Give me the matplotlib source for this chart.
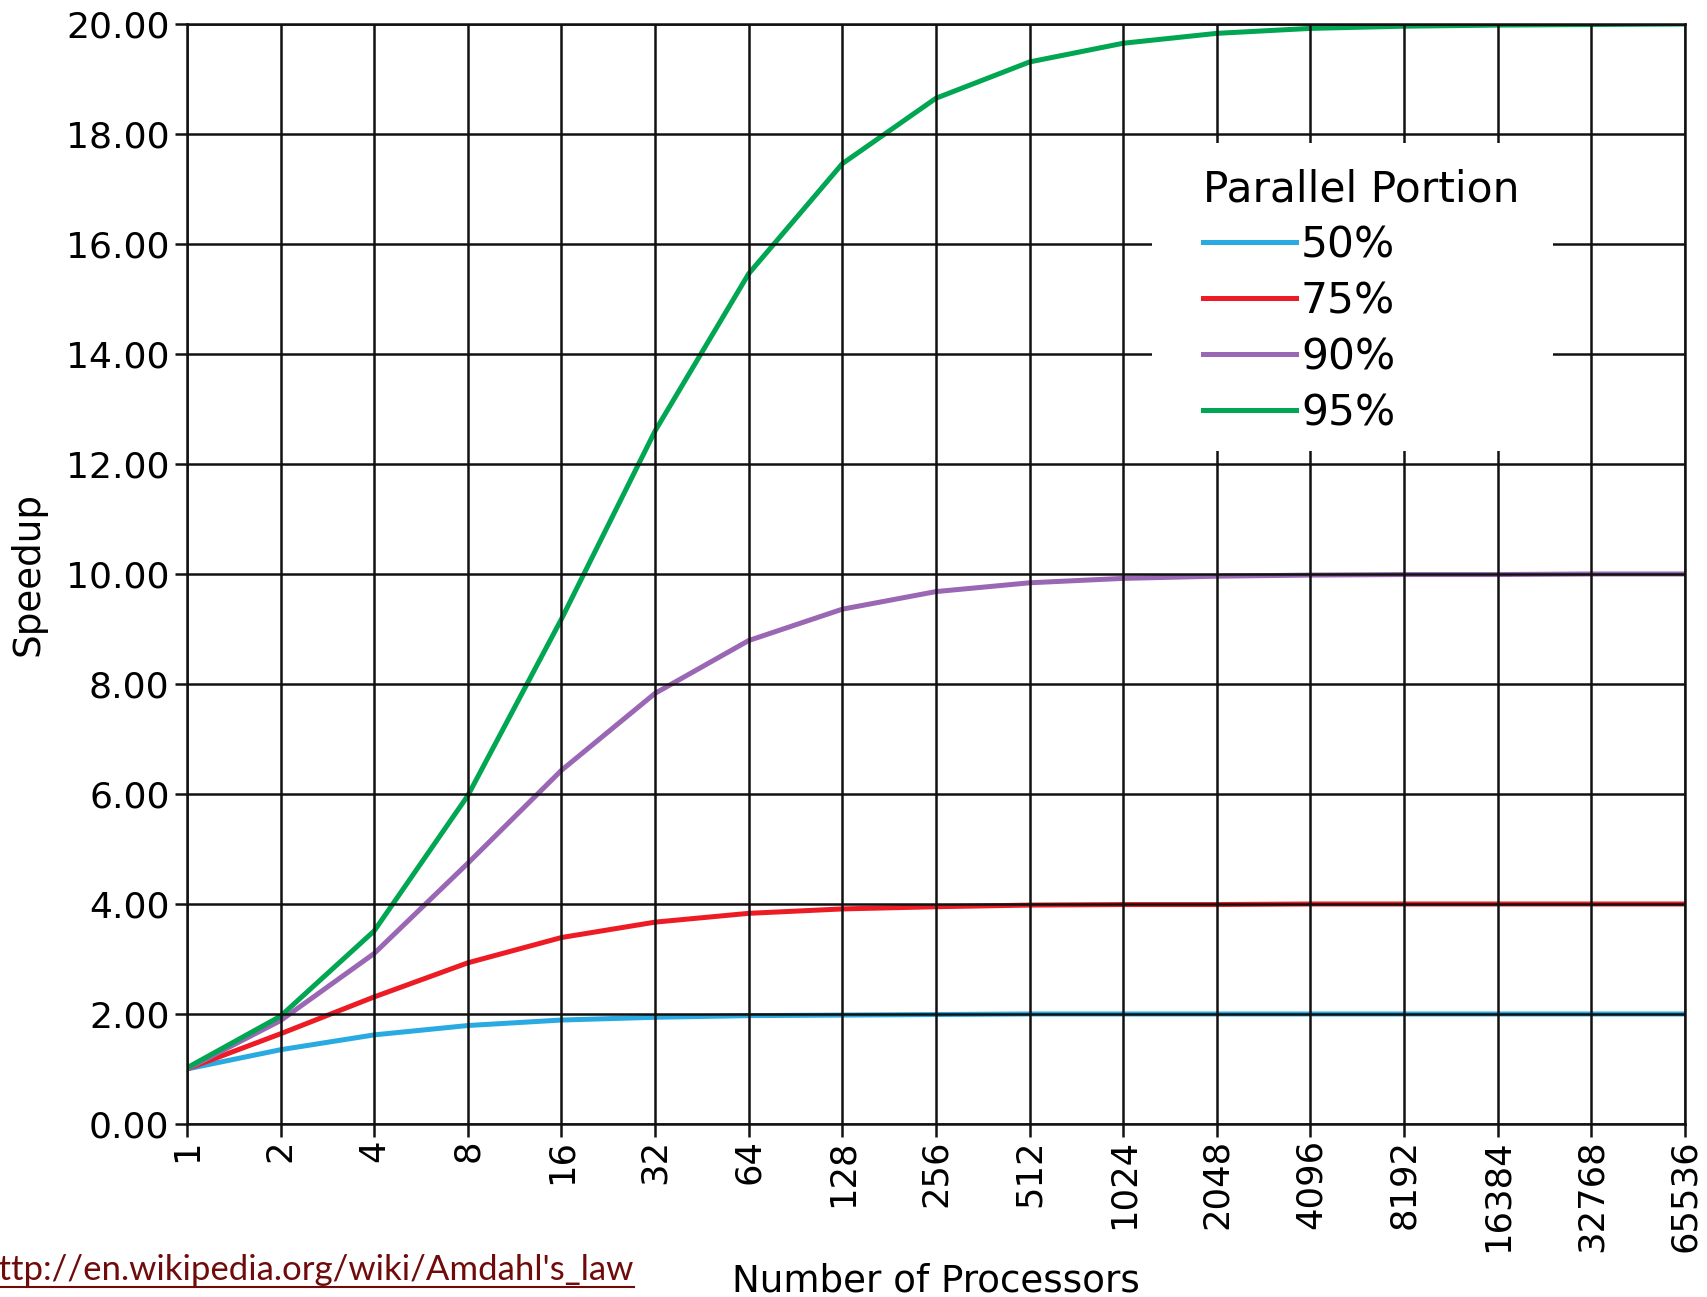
import matplotlib
matplotlib.use('Agg')
import matplotlib.pyplot as plt
from matplotlib.lines import Line2D
from matplotlib.patches import Rectangle
from matplotlib.ticker import FormatStrFormatter, NullLocator

# Number of processors (log2 axis) and speedup
processors = [1, 2, 4, 8, 16, 32, 64, 128, 256, 512, 1024, 2048, 4096,
              8192, 16384, 32768, 65536]
tick_labels = [str(n) for n in processors]

speedup_50 = [1.00, 1.35, 1.62, 1.79, 1.89, 1.94, 1.97, 1.98, 1.99, 2.00,
              2.00, 2.00, 2.00, 2.00, 2.00, 2.00, 2.00]
speedup_75 = [1.00, 1.64, 2.31, 2.93, 3.39, 3.67, 3.83, 3.91, 3.95, 3.98,
              3.99, 3.99, 4.00, 4.00, 4.00, 4.00, 4.00]
speedup_90 = [1.00, 1.88, 3.10, 4.74, 6.43, 7.83, 8.79, 9.36, 9.68, 9.84,
              9.92, 9.96, 9.98, 9.99, 9.99, 10.00, 10.00]
speedup_95 = [1.02, 1.96, 3.51, 5.97, 9.18, 12.60, 15.46, 17.46, 18.65, 19.31,
              19.65, 19.83, 19.92, 19.96, 19.98, 19.99, 20.00]

portions = ['50%', '75%', '90%', '95%']
colors = ['#29abe2', '#ed1c24', '#9a67b4', '#00a651']
series = [speedup_50, speedup_75, speedup_90, speedup_95]

fig = plt.figure(figsize=(17.07, 12.97), dpi=100)
ax = fig.add_axes([0.1095, 0.1334, 0.8776, 0.8481])

for ys, lab, c in zip(series, portions, colors):
    ax.plot(processors, ys, color=c, lw=3.6, label=lab)

ax.set_xscale('log', base=2)
ax.set_xlim(1, 65536)
ax.set_ylim(0, 20)
ax.set_xticks(processors)
ax.set_xticklabels(tick_labels, rotation=90)
ax.xaxis.set_minor_locator(NullLocator())
ax.set_yticks(range(0, 21, 2))
ax.yaxis.set_major_formatter(FormatStrFormatter('%.2f'))

grid_c = '#111111'
ax.grid(True, color=grid_c, lw=1.8)
ax.set_axisbelow(False)
ax.tick_params(length=9, width=1.8, labelsize=26, color=grid_c)
ax.tick_params(axis='x', pad=2, labelsize=25.5)
for sp in ax.spines.values():
    sp.set_linewidth(1.8)
    sp.set_color(grid_c)

ax.set_xlabel('Number of Processors', fontsize=26.8, labelpad=8)
ax.set_ylabel('Speedup', fontsize=26.8, labelpad=14)

# white box behind the legend that blanks out part of the grid
ax.add_patch(Rectangle((0.644, 0.612), 0.268, 0.28, transform=ax.transAxes,
                       facecolor='white', edgecolor='none', zorder=4))
leg = ax.legend(title='Parallel Portion', loc='upper left',
                bbox_to_anchor=(0.678, 0.869), fontsize=30.5,
                title_fontsize=30.5, frameon=False, borderpad=0,
                borderaxespad=0, handlelength=2.2, handletextpad=0.12,
                labelspacing=0.33, alignment='left')
leg.set_zorder(5)

# source link, bottom left, partly cut at the figure edge
url = fig.text(-0.012, 0.013, "http://en.wikipedia.org/wiki/Amdahl's_law",
               fontsize=25, family='Lato', color='#700b0b', ha='left',
               va='baseline')
fig.canvas.draw()
bb = url.get_window_extent().transformed(fig.transFigure.inverted())
fig.add_artist(Line2D([bb.x0, bb.x1], [0.0075, 0.0075], color='#700b0b',
                      lw=1.5, transform=fig.transFigure))

fig.savefig('out.png', dpi=100)
